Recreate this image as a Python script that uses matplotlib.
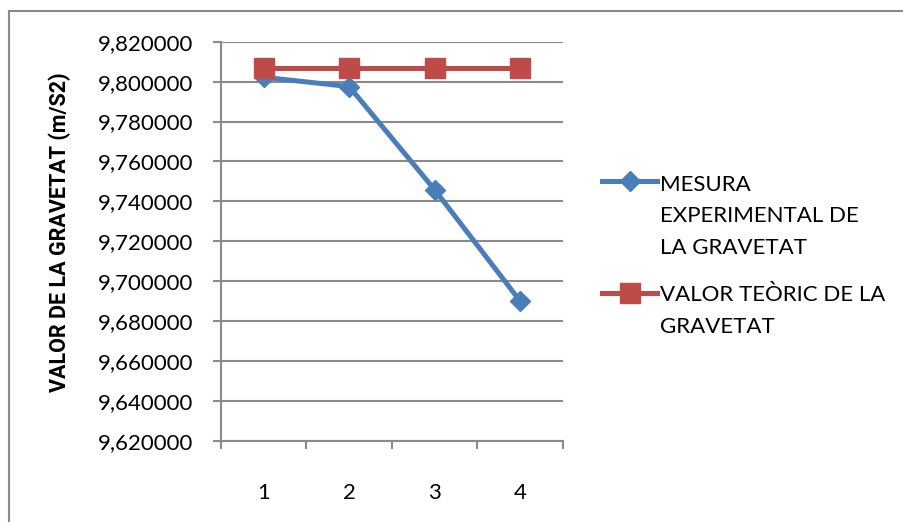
import matplotlib
matplotlib.use("Agg")
import matplotlib.pyplot as plt
from matplotlib.lines import Line2D
from matplotlib.ticker import FixedLocator, FuncFormatter, NullFormatter

plt.rcParams['font.family'] = ['Lato', 'DejaVu Sans']

# Data
mesures = [1, 2, 3, 4]
mesura_experimental = [9.8022, 9.7975, 9.7458, 9.6900]
valor_teoric = [9.807, 9.807, 9.807, 9.807]
etiquetes = ["MESURA\nEXPERIMENTAL DE\nLA GRAVETAT", "VALOR TEÒRIC DE LA\nGRAVETAT"]
y_ticks = [9.62, 9.64, 9.66, 9.68, 9.70, 9.72, 9.74, 9.76, 9.78, 9.80, 9.82]

BLUE = "#4A7EBB"
RED = "#BE4B48"
GRID = "#8A8A8A"
W, H = 904, 522

fig = plt.figure(figsize=(W / 100, H / 100), dpi=100)
ax = fig.add_axes([221 / W, 1 - 441 / H, 342 / W, 399.3 / H])

series = [
    dict(y=mesura_experimental, color=BLUE, marker='D', ms=10.5),
    dict(y=valor_teoric, color=RED, marker='s', ms=14),
]
for z, (s, lab) in enumerate(zip(series, etiquetes)):
    ax.plot(mesures, s["y"], color=s["color"], lw=3.6, marker=s["marker"], ms=s["ms"],
            markerfacecolor=s["color"], markeredgecolor=s["color"], zorder=3 + z, label=lab)

ax.set_xlim(0.5, 4.5)
ax.set_ylim(y_ticks[0], y_ticks[-1])
ax.yaxis.set_major_locator(FixedLocator(y_ticks))
ax.yaxis.set_major_formatter(FuncFormatter(lambda v, p: f"{v:.6f}".replace(".", ",")))

# category boundaries carry the tick marks, labels sit at the centres
ax.xaxis.set_major_locator(FixedLocator([0.5, 1.5, 2.5, 3.5, 4.5]))
ax.xaxis.set_major_formatter(NullFormatter())
ax.xaxis.set_minor_locator(FixedLocator(mesures))
ax.xaxis.set_minor_formatter(FuncFormatter(lambda v, p: f"{int(v)}"))
ax.tick_params(axis='x', which='minor', length=0, pad=30, labelsize=16)
ax.tick_params(axis='x', which='major', length=6, width=1.5, color=GRID, direction='out')
ax.tick_params(axis='y', length=6, width=1.5, color=GRID, pad=14, labelsize=16)

ax.grid(axis='y', color=GRID, lw=1.5)
ax.set_axisbelow(True)
for s in ("top", "right"):
    ax.spines[s].set_visible(False)
for s in ("left", "bottom"):
    ax.spines[s].set_color(GRID)
    ax.spines[s].set_linewidth(1.5)

fig.text(60 / W, 1 - 232 / H, "VALOR DE LA GRAVETAT (m/S2)", rotation=90,
         ha='center', va='center', fontsize=15.5, fontweight='bold',
         family=['Roboto', 'DejaVu Sans'])

# legend: handle beside the first line of each wrapped label
legend_handle_y = [181, 293]   # pixels from top
legend_last_base = [254, 333]  # baseline of the last text line, pixels from top
for s, lab, yh, yb in zip(series, etiquetes, legend_handle_y, legend_last_base):
    yc = 1 - yh / H
    fig.add_artist(Line2D([602 / W, 630 / W, 657 / W], [yc, yc, yc], transform=fig.transFigure,
                          color=s["color"], lw=3.6, marker=s["marker"], ms=s["ms"],
                          markevery=[1], markerfacecolor=s["color"], markeredgecolor=s["color"]))
    fig.text(660 / W, 1 - yb / H, lab, ha='left', va='baseline', fontsize=16,
             linespacing=1.72)

# chart-area border
fig.add_artist(Line2D([8.5 / W, 1.0], [1 - 11 / H, 1 - 11 / H],
                      transform=fig.transFigure, color=GRID, lw=1.5))
fig.add_artist(Line2D([8.5 / W, 8.5 / W], [0, 1 - 11 / H],
                      transform=fig.transFigure, color=GRID, lw=1.5))

fig.savefig("out.png", dpi=100)
